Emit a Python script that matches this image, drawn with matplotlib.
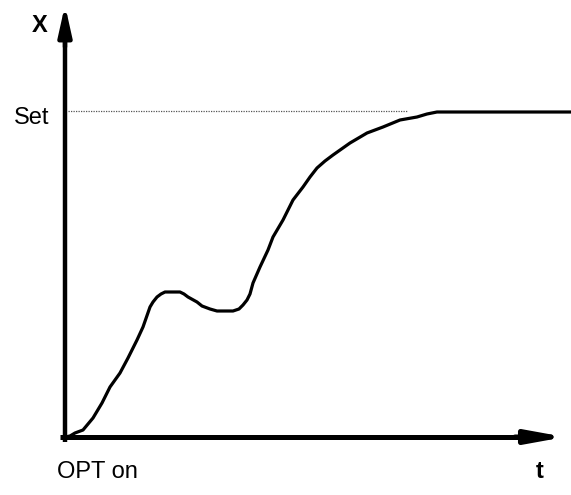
import matplotlib
matplotlib.use("Agg")
import matplotlib.pyplot as plt

plt.rcParams["font.family"] = ["Liberation Sans", "DejaVu Sans"]

# 控制量 X 對時間 t（單位：任意，原點 = OPT on）
t = [0, 5, 10, 18, 28, 37, 45, 55, 63, 72, 78, 85, 88, 92, 96, 100, 115, 119, 123,
     132, 137, 145, 152, 168, 174, 178, 182, 185, 188, 195, 203, 208, 218, 228,
     238, 245, 252, 260, 268, 285, 302, 318, 335, 352, 362, 372, 506]
x = [0, 1, 4, 7, 19, 34, 50, 64, 79, 97, 110, 130, 135, 140, 143, 145, 145, 143,
     140, 135, 131, 128, 126, 126, 128, 132, 137, 143, 154, 170, 187, 200, 217,
     237, 250, 260, 269, 276, 282, 294, 304, 310, 317, 320, 323, 325, 325]
set_level = 326
set_end = 342

fig = plt.figure(figsize=(5.71, 4.95), dpi=100)
ax = fig.add_axes([0, 0, 1, 1])
ax.set_xlim(-65, 506)
ax.set_ylim(-58, 437)
ax.axis("off")

# 設定值虛線
ax.plot([3, set_end], [set_level, set_level], color="#555555", lw=0.9, ls=(0, (1, 1)))

# 曲線
ax.plot(t, x, color="black", lw=2.3, solid_joinstyle="round")

# 座標軸（含箭頭）
ax.plot([0, 0], [-5, 405], color="black", lw=3.2, solid_capstyle="butt")
ax.annotate("", xy=(0, 432), xytext=(0, 390),
            arrowprops=dict(arrowstyle="-|>,head_length=1.8,head_width=0.4",
                            color="black", lw=3.2, mutation_scale=10, shrinkA=0, shrinkB=0))
ax.plot([-5, 470], [0, 0], color="black", lw=3.6, solid_capstyle="butt")
ax.annotate("", xy=(500, 0), xytext=(450, 0),
            arrowprops=dict(arrowstyle="-|>,head_length=2.2,head_width=0.4",
                            color="black", lw=3.6, mutation_scale=10, shrinkA=0, shrinkB=0))

ax.text(-25, 412, "X", fontsize=17, fontweight="bold", ha="center", va="center")
ax.text(-16, set_level - 7, "Set", fontsize=17, ha="right", va="center")
ax.text(-8, -35, "OPT on", fontsize=17, ha="left", va="center")
ax.text(475, -35, "t", fontsize=17, fontweight="bold", ha="center", va="center")

fig.savefig("out.png", dpi=100)
